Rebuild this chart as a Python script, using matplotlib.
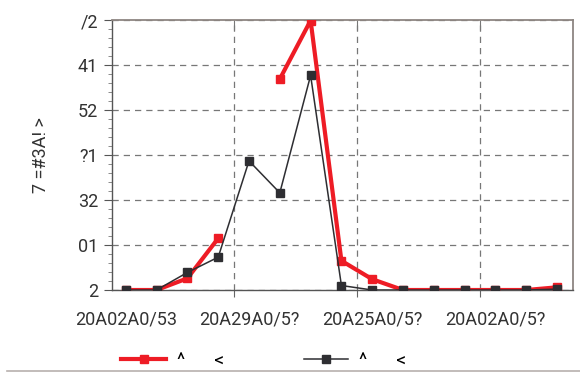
import numpy as np
import matplotlib.pyplot as plt
from matplotlib.lines import Line2D
from matplotlib.ticker import FixedLocator, MultipleLocator

# series values, one point per period
idx = np.arange(15)
red_vals = [0, 0, 2.6, 11.5, np.nan, 46.9, 59.9, 6.5, 2.4, 0, 0, 0, 0, 0, 0.6]
black_vals = [0, 0, 3.9, 7.3, 28.7, 21.6, 47.7, 1.0, 0, 0, 0, 0, 0, 0, 0.2]

y_ticks = [0, 10, 20, 30, 40, 50, 60]
y_labels = ['2', '01', '32', '?1', '52', '41', '/2']
x_label_pos = [0, 4, 8, 12]
x_labels = ['20A02A0/53', '20A29A0/5?', '20A25A0/5?', '20A02A0/5?']
x_grid_pos = [3.5, 7.5, 11.5]

plt.rcParams['font.family'] = ['Roboto', 'DejaVu Sans']

fig = plt.figure(figsize=(5.8, 3.72), dpi=100)
ax = fig.add_axes([0.193, 0.2204, 0.795, 0.7256])

red = '#ee1c25'
dark = '#2e2e32'

ax.plot(idx, red_vals, color=red, lw=3.0, marker='s', ms=6, mec=red, mfc=red,
        label='^      <', zorder=3)
ax.plot(idx, black_vals, color=dark, lw=1.1, marker='s', ms=6, mec=dark, mfc=dark,
        label='^      <', zorder=4)

ax.set_xlim(-0.45, 14.52)
ax.set_ylim(0, 60)

ax.set_yticks(y_ticks)
ax.set_yticklabels(y_labels, fontsize=13, color='#333333')
ax.yaxis.set_minor_locator(MultipleLocator(2))
ax.tick_params(axis='y', which='major', direction='out', length=6, color='#555555', pad=4)
ax.tick_params(axis='y', which='minor', direction='out', length=3, color='#777777')

# major x ticks carry the grid, labels sit on minor ticks
ax.xaxis.set_major_locator(FixedLocator(x_grid_pos))
ax.set_xticklabels([''] * len(x_grid_pos))
ax.xaxis.set_minor_locator(FixedLocator(x_label_pos))
ax.set_xticklabels(x_labels, minor=True, fontsize=13, color='#333333')
ax.tick_params(axis='x', which='major', direction='out', length=5, color='#666666')
ax.tick_params(axis='x', which='minor', length=0, pad=15)

# inward ticks along the top edge
top = ax.secondary_xaxis('top')
top.set_xticks(x_grid_pos)
top.set_xticklabels([''] * len(x_grid_pos))
top.tick_params(direction='in', length=7, color='#777777')
top.spines['top'].set_visible(False)

ax.grid(True, which='major', axis='both', ls=(0, (5, 4)), color='#777777', lw=0.9)
ax.set_axisbelow(True)

for side in ['top', 'right']:
    ax.spines[side].set_color('#8e8682')
    ax.spines[side].set_linewidth(1.3)
for side in ['left', 'bottom']:
    ax.spines[side].set_color('#555555')
    ax.spines[side].set_linewidth(1.0)

ax.set_ylabel('7 =#3A! >', fontsize=13, color='#333333', labelpad=20)

fig.legend(loc='center', bbox_to_anchor=(0.455, 0.03), ncol=2, frameon=False,
           fontsize=14, handlelength=2.3, columnspacing=4.1, handletextpad=0.55)

fig.add_artist(Line2D([0.012, 1.0], [0.004, 0.004], color='#b8b0ae', lw=1.2,
                      transform=fig.transFigure))

fig.savefig('out.png', dpi=100)
